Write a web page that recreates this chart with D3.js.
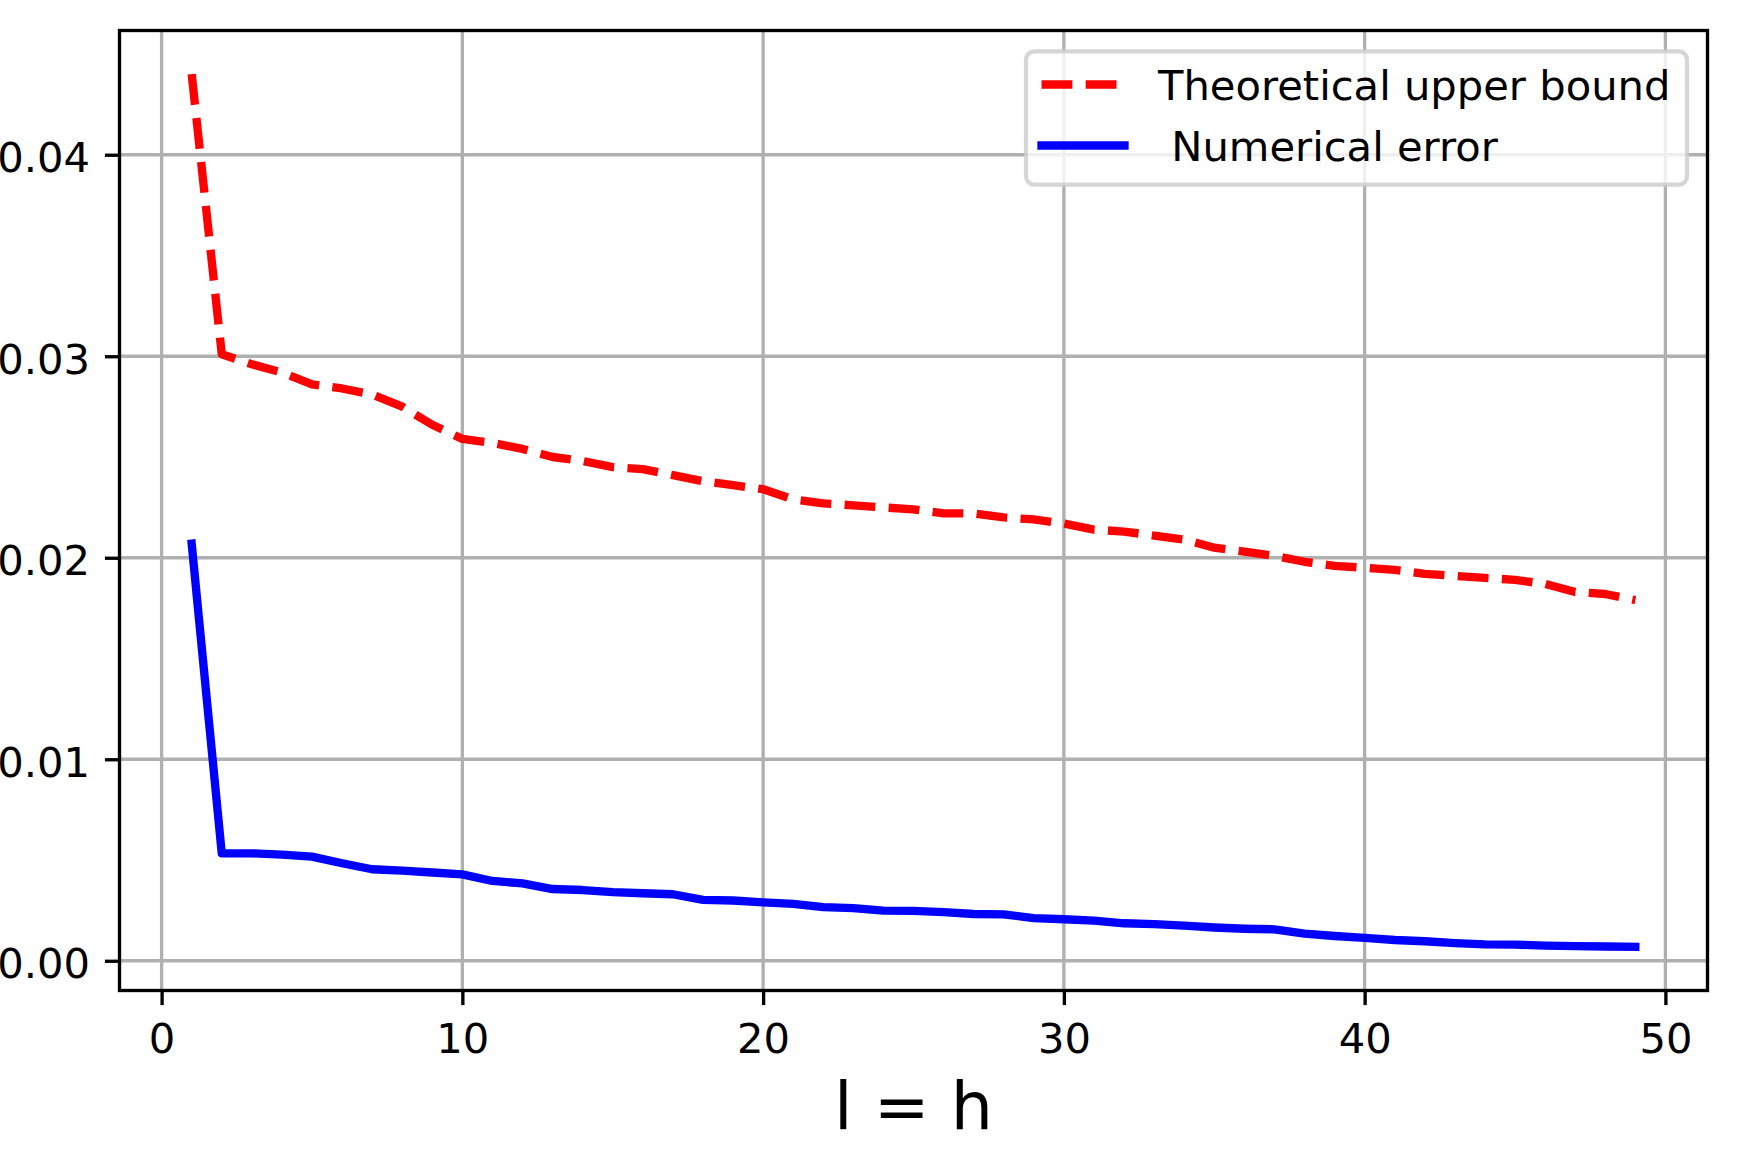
<!DOCTYPE html>
<html>
<head>
<meta charset="utf-8">
<script src="https://cdn.jsdelivr.net/npm/d3@7"></script>
<style>
  body { margin: 0; background: #fff; }
  svg { display: block; font-family: "DejaVu Sans", sans-serif; }
</style>
</head>
<body>
<svg id="chart"></svg>
<script>
// l = h values on the x axis
const steps = d3.range(1, 50);

// theoretical upper bound (red dashed)
const upperBound = [
  0.0440, 0.0301, 0.0296, 0.0292, 0.0286, 0.0284, 0.0281, 0.0275, 0.0266, 0.0259,
  0.0257, 0.0254, 0.0250, 0.0248, 0.0245, 0.0244, 0.0241, 0.0238, 0.0236, 0.0234,
  0.0229, 0.0227, 0.0226, 0.0225, 0.0224, 0.0222, 0.0222, 0.0220, 0.0219, 0.0217,
  0.0214, 0.0213, 0.0211, 0.0209, 0.0205, 0.0203, 0.0201, 0.0198, 0.0196, 0.0195,
  0.0194, 0.0192, 0.0191, 0.0190, 0.0189, 0.0187, 0.0183, 0.0182, 0.0179
];

// numerical error (blue solid)
const numError = [
  0.0207, 0.00533, 0.00533, 0.00527, 0.00517, 0.00484, 0.00454, 0.00447, 0.00438, 0.00429,
  0.00396, 0.00384, 0.00356, 0.00351, 0.00341, 0.00335, 0.00330, 0.00302, 0.00299, 0.00290,
  0.00282, 0.00266, 0.00261, 0.00249, 0.00248, 0.00241, 0.00232, 0.00230, 0.00212, 0.00206,
  0.00199, 0.00186, 0.00182, 0.00174, 0.00165, 0.00159, 0.00156, 0.00135, 0.00123, 0.00114,
  0.00103, 0.00097, 0.00088, 0.00081, 0.00080, 0.00075, 0.00073, 0.00071, 0.00069
];

const xTicks = [0, 10, 20, 30, 40, 50];
const yTicks = [0, 0.01, 0.02, 0.03, 0.04];
const legendLabels = ["Theoretical upper bound", " Numerical error"];
const xLabel = "l = h";

const width = 1738, height = 1173;
const box = { left: 119.5, right: 1707.5, top: 30.5, bottom: 990.5 };
const pt = 300 / 72; // figure was rendered at 300 dpi

const svg = d3.select("#chart").attr("width", width).attr("height", height);

// matplotlib style 5% margins around the data
const pad = (lo, hi) => { const m = (hi - lo) * 0.05; return [lo - m, hi + m]; };
const allY = upperBound.concat(numError);
const xScale = d3.scaleLinear().domain(pad(d3.min(steps), d3.max(steps))).range([box.left, box.right]);
const yScale = d3.scaleLinear().domain(pad(d3.min(allY), d3.max(allY))).range([box.bottom, box.top]);

// grid
const grid = svg.append("g").attr("stroke", "#b0b0b0").attr("stroke-width", 0.8 * pt);
grid.selectAll(".vgrid").data(xTicks).join("line").attr("class", "vgrid")
  .attr("x1", d => xScale(d)).attr("x2", d => xScale(d))
  .attr("y1", box.top).attr("y2", box.bottom);
grid.selectAll(".hgrid").data(yTicks).join("line").attr("class", "hgrid")
  .attr("x1", box.left).attr("x2", box.right)
  .attr("y1", d => yScale(d)).attr("y2", d => yScale(d));

// the two curves
const lineGen = d3.line().x(d => xScale(d[0])).y(d => yScale(d[1]));
const lw = 2 * pt;
svg.append("path")
  .attr("d", lineGen(steps.map((s, i) => [s, upperBound[i]])))
  .attr("fill", "none").attr("stroke", "#ff0000").attr("stroke-width", lw)
  .attr("stroke-dasharray", `${3.7 * lw} ${1.6 * lw}`)
  .attr("stroke-linejoin", "round").attr("stroke-linecap", "butt");
svg.append("path")
  .attr("d", lineGen(steps.map((s, i) => [s, numError[i]])))
  .attr("fill", "none").attr("stroke", "#0000ff").attr("stroke-width", lw)
  .attr("stroke-linejoin", "round").attr("stroke-linecap", "square");

// axes (ticks + labels)
const tickLen = 3.5 * pt;
const xAxis = d3.axisBottom(xScale).tickValues(xTicks).tickFormat(d3.format("d"))
  .tickSize(tickLen).tickPadding(3.5 * pt);
const yAxis = d3.axisLeft(yScale).tickValues(yTicks).tickFormat(d3.format(".2f"))
  .tickSize(tickLen).tickPadding(3.5 * pt);

const gx = svg.append("g").attr("transform", `translate(0,${box.bottom})`).call(xAxis);
const gy = svg.append("g").attr("transform", `translate(${box.left},0)`).call(yAxis);
[gx, gy].forEach(g => {
  g.select(".domain").remove();
  g.selectAll(".tick line").attr("stroke", "#000").attr("stroke-width", 0.8 * pt);
  g.selectAll(".tick text").attr("fill", "#000").style("font-size", `${10 * pt}px`)
    .style("font-family", "DejaVu Sans");
});
gx.selectAll(".tick text").attr("dy", null).attr("y", 1053 - box.bottom);
gy.selectAll(".tick text").attr("dy", null).attr("y", 17).attr("x", -(box.left - 90));

// frame
svg.append("rect")
  .attr("x", box.left).attr("y", box.top)
  .attr("width", box.right - box.left).attr("height", box.bottom - box.top)
  .attr("fill", "none").attr("stroke", "#000").attr("stroke-width", 0.8 * pt);

// x label
svg.append("text")
  .attr("x", (box.left + box.right) / 2).attr("y", 1129)
  .attr("text-anchor", "middle").style("font-size", `${16 * pt}px`)
  .text(xLabel);

// legend
const legend = svg.append("g");
legend.append("rect")
  .attr("x", 1026).attr("y", 51.3).attr("width", 661).attr("height", 133.4)
  .attr("rx", 8.3).attr("ry", 8.3)
  .attr("fill", "#fff").attr("fill-opacity", 0.8)
  .attr("stroke", "#cccccc").attr("stroke-opacity", 0.8).attr("stroke-width", 1 * pt);

const rows = [
  { label: legendLabels[0], color: "#ff0000", dash: `${3.7 * lw} ${1.6 * lw}`, cap: "butt", y: 84.5 },
  { label: legendLabels[1], color: "#0000ff", dash: null, cap: "square", y: 145.5 }
];
const handleX0 = 1041.5, handleX1 = 1124.5;
legend.selectAll(".handle").data(rows).join("line").attr("class", "handle")
  .attr("x1", handleX0).attr("x2", handleX1)
  .attr("y1", d => d.y).attr("y2", d => d.y)
  .attr("stroke", d => d.color).attr("stroke-width", lw)
  .attr("stroke-dasharray", d => d.dash).attr("stroke-linecap", d => d.cap);
legend.selectAll(".legend-label").data(rows).join("text").attr("class", "legend-label")
  .attr("x", 1158).attr("y", d => d.y + 15.5)
  .attr("xml:space", "preserve").style("white-space", "pre")
  .style("font-size", `${10 * pt}px`)
  .text(d => d.label);
</script>
</body>
</html>
